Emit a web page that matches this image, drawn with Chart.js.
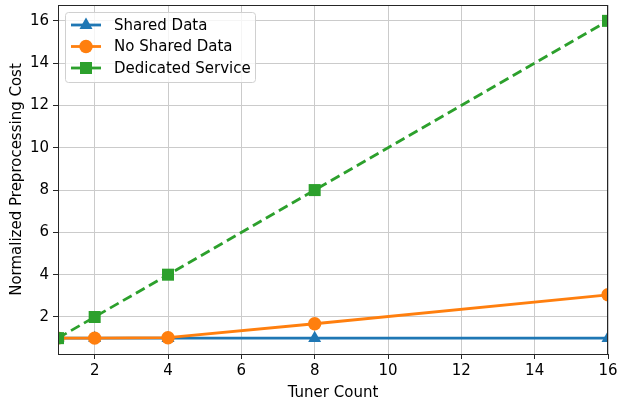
<!DOCTYPE html>
<html>
<head>
<meta charset="utf-8">
<script src="https://cdn.jsdelivr.net/npm/chart.js@4.4.1/dist/chart.umd.min.js"></script>
<style>
	html, body { margin: 0; padding: 0; background: #fff; }
	#wrap { width: 617px; height: 402px; }
</style>
</head>
<body>
<div id="wrap"><canvas id="chart-preprocessing"></canvas></div>
<script>
// Data
const tunerCounts = [1, 2, 4, 8, 16];
const sharedData = [1, 1, 1, 1, 1];
const noSharedData = [1, 1, 1.02, 1.68, 3.05];
const dedicatedService = [1, 2, 4, 8, 16];
const xTickValues = [2, 4, 6, 8, 10, 12, 14, 16];
const yTickValues = [2, 4, 6, 8, 10, 12, 14, 16];

const FONT = "'DejaVu Sans', sans-serif";
const FONT_SIZE = 15;
const BLUE = "#1f77b4";
const ORANGE = "#ff7f0e";
const GREEN = "#2ca02c";

const toPoints = (ys) => tunerCounts.map((x, i) => ({ x: x, y: ys[i] }));

// Legend drawn inside the plot, matplotlib style
const legendItems = [
	{ label: "Shared Data", color: BLUE, marker: "triangle" },
	{ label: "No Shared Data", color: ORANGE, marker: "circle" },
	{ label: "Dedicated Service", color: GREEN, marker: "rect" },
];

const drawMarker = (ctx, type, x, y, color) => {
	ctx.save();
	ctx.fillStyle = color;
	ctx.beginPath();
	if (type === "triangle") {
		ctx.moveTo(x, y - 7.5);
		ctx.lineTo(x + 6.5, y + 4);
		ctx.lineTo(x - 6.5, y + 4);
		ctx.closePath();
	} else if (type === "circle") {
		ctx.arc(x, y, 6.7, 0, Math.PI * 2);
	} else {
		ctx.rect(x - 6, y - 6, 12, 12);
	}
	ctx.fill();
	ctx.restore();
};

const framePlugin = {
	id: "frame",
	afterDraw(chart) {
		const { ctx, chartArea: a } = chart;
		ctx.save();
		ctx.strokeStyle = "#262626";
		ctx.lineWidth = 1;
		ctx.strokeRect(a.left + 0.5, a.top + 0.5, a.right - a.left - 1, a.bottom - a.top);
		ctx.restore();

		// legend box
		const bx = 65, by = 12, bw = 190, bh = 70;
		ctx.save();
		ctx.fillStyle = "rgba(255,255,255,0.8)";
		ctx.strokeStyle = "#d0d0d0";
		ctx.lineWidth = 1;
		ctx.beginPath();
		ctx.roundRect(bx + 0.5, by + 0.5, bw, bh, 3);
		ctx.fill();
		ctx.stroke();
		legendItems.forEach((item, i) => {
			const y = 25 + i * 21.5;
			ctx.strokeStyle = item.color;
			ctx.lineWidth = 2.8;
			ctx.beginPath();
			ctx.moveTo(71, y);
			ctx.lineTo(101, y);
			ctx.stroke();
			drawMarker(ctx, item.marker, 86, y, item.color);
			ctx.fillStyle = "#000";
			ctx.font = FONT_SIZE + "px " + FONT;
			ctx.textBaseline = "middle";
			ctx.fillText(item.label, 114, y + 1);
		});
		ctx.restore();
	},
};

const CHART_DATA = {
	datasets: [
		{
			label: "Shared Data",
			data: toPoints(sharedData),
			borderColor: BLUE,
			backgroundColor: BLUE,
			borderWidth: 2.8,
			pointStyle: "triangle",
			pointRadius: 7.5,
			pointBorderWidth: 0,
			order: 3,
			clip: 0,
		},
		{
			label: "No Shared Data",
			data: toPoints(noSharedData),
			borderColor: ORANGE,
			backgroundColor: ORANGE,
			borderWidth: 2.8,
			pointStyle: "circle",
			pointRadius: 6.7,
			pointBorderWidth: 0,
			order: 2,
			clip: 0,
		},
		{
			label: "Dedicated Service",
			data: toPoints(dedicatedService),
			borderColor: GREEN,
			backgroundColor: GREEN,
			borderWidth: 2.8,
			borderDash: [10, 5],
			pointStyle: "rect",
			pointRadius: 8.5,
			pointBorderWidth: 0,
			order: 1,
			clip: 0,
		},
	],
};

const axisGrid = {
	color: "#cbcbcb",
	lineWidth: 1,
	drawTicks: true,
	tickLength: 5,
	tickColor: "#262626",
};

const CHART_CONFIG = {
	type: "line",
	data: CHART_DATA,
	plugins: [framePlugin],
	options: {
		responsive: true,
		maintainAspectRatio: false,
		animation: false,
		devicePixelRatio: 1,
		layout: {
			autoPadding: false,
			padding: { left: 0, right: 9, top: 5, bottom: 0 },
		},
		plugins: {
			legend: { display: false },
			title: { display: false },
			tooltip: { enabled: false },
		},
		scales: {
			x: {
				type: "linear",
				min: 1,
				max: 16,
				afterBuildTicks: (scale) => {
					scale.ticks = xTickValues.map((v) => ({ value: v }));
				},
				afterFit: (scale) => {
					scale.height = 48;
					scale.paddingLeft = 0;
					scale.paddingRight = 0;
				},
				border: { display: false },
				grid: { ...axisGrid },
				ticks: {
					color: "#000",
					font: { family: FONT, size: FONT_SIZE },
					padding: 3,
					maxRotation: 0,
				},
				title: {
					display: true,
					text: "Tuner Count",
					color: "#000",
					font: { family: FONT, size: FONT_SIZE },
					padding: { top: 0, bottom: 0 },
				},
			},
			y: {
				type: "linear",
				min: 0.25,
				max: 16.75,
				afterBuildTicks: (scale) => {
					scale.ticks = yTickValues.map((v) => ({ value: v }));
				},
				afterFit: (scale) => {
					scale.width = 58;
					scale.paddingTop = 0;
					scale.paddingBottom = 0;
				},
				border: { display: false },
				grid: { ...axisGrid },
				ticks: {
					color: "#000",
					font: { family: FONT, size: FONT_SIZE },
					padding: 4,
				},
				title: {
					display: true,
					text: "Normalized Preprocessing Cost",
					color: "#000",
					font: { family: FONT, size: FONT_SIZE },
					padding: { top: 8, bottom: 0 },
				},
			},
		},
	},
};

const CHART_WRAPPER = document.getElementById("chart-preprocessing");
if (CHART_WRAPPER) {
	new Chart(CHART_WRAPPER, CHART_CONFIG);
}
</script>
</body>
</html>
